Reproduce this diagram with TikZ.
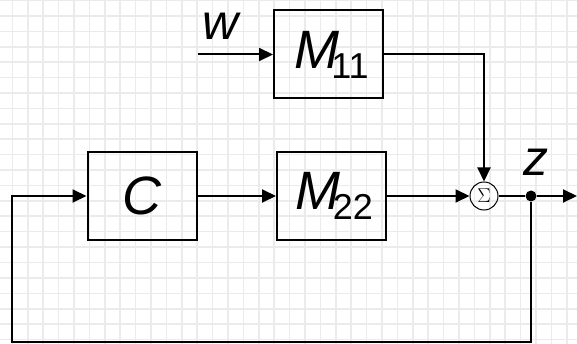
\RequirePackage{fix-cm}
\documentclass[tikz,border=0pt]{standalone}
\usepackage[no-math]{fontspec}
\setsansfont{Liberation Sans}
\usetikzlibrary{arrows.meta,positioning}

\newcommand{\blocklabel}[2]{{\fontsize{54}{54}\sffamily\itshape #1}\kern-8pt\raisebox{-10pt}{\fontsize{36}{36}\sffamily #2}}

\begin{document}
\begin{tikzpicture}[
    x=1pt, y=-1pt,
    gridline/.style={line width=1.6pt,draw=black!8},
    box/.style={draw,line width=2pt,minimum width=109pt,minimum height=88pt,inner sep=0pt},
    arr/.style={-{Triangle[length=14pt,width=13pt]},line width=2pt},
    wire/.style={line width=2pt},
    lbl/.style={inner sep=0pt,font=\fontsize{50}{50}\sffamily\itshape},
    sumnode/.style={draw,circle,line width=1pt,minimum size=28pt,inner sep=0pt,font=\fontsize{20}{20}\selectfont},
    junction/.style={circle,fill,minimum size=11pt,inner sep=0pt}
]
\useasboundingbox (0,0) rectangle (577,344);
% background grid
\foreach \gx in {0,...,36}
    \draw[gridline] ({12.3+15.4*\gx},0) -- ({12.3+15.4*\gx},344);
\foreach \gy in {0,...,22}
    \draw[gridline] (0,{0.7+15.4*\gy}) -- (577,{0.7+15.4*\gy});

\node[box] (m11) at (328.5,54.5) {\hspace*{6pt}\blocklabel{M}{11}};
\node[box] (ctrl) at (142,196) {\fontsize{54}{54}\sffamily\itshape C};
\node[box] (m22) at (331.5,196) {\hspace*{6pt}\blocklabel{M}{22}};
\node[sumnode] (sum) at (484,196) {$\Sigma$};
\node[junction] (tap) at (531,196) {};
\node[lbl] (wlbl) at (221,26) {w};
\node[lbl] (zlbl) at (536,162) {z};
\coordinate (win) at (198,54.5);
\coordinate (zout) at (577,196);
\coordinate (ret) at (12,342);

\draw[arr] (win) -- (m11);
\draw[arr] (m11) -| (sum);
\draw[arr] (ctrl) -- (m22);
\draw[arr] (m22) -- (sum);
\draw[wire] (sum) -- (tap);
\draw[arr] (tap) -- (zout);
\draw[arr] (tap) |- (ret) |- (ctrl);
\end{tikzpicture}
\end{document}
